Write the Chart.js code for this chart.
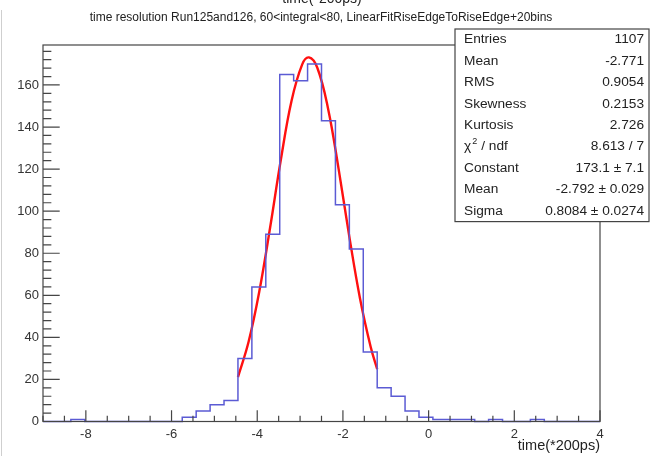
<!DOCTYPE html>
<html><head><meta charset="utf-8">
<script src="https://cdn.jsdelivr.net/npm/chart.js@4/dist/chart.umd.min.js"></script>
<style>html,body{margin:0;padding:0;background:#fff;}#wrap{position:relative;width:651px;height:456px;}canvas{display:block;}</style>
</head><body><div id="wrap"><canvas id="c" width="651" height="456"></canvas></div>
<script>
// ---------- data ----------
const chartTitle = "time resolution Run125and126, 60<integral<80, LinearFitRiseEdgeToRiseEdge+20bins";
const topCutText = "time(*200ps)";
const xAxisTitle = "time(*200ps)";
const xMin = -9, xMax = 4, nBins = 40;
const yMax = 179;
const binCounts = [0,0,1,0,0,0,0,0,0,0,
                   2,5,8,10,30,64,89,165,162,170,
                   143,103,82,33,16,12,5,2,1,1,
                   1,0,1,0,0,1,0,0,0,0];
// gaus fit curve
const fitX = [-4.45,-4.2,-3.95,-3.7,-3.45,-3.2,-2.95,-2.792,-2.6,-2.35,-2.1,-1.85,-1.6,-1.35,-1.2];
const fitY = [21.1,38.0,62.0,92.1,124.3,152.4,169.8,173.1,168.3,149.1,120.0,87.8,58.4,35.3,24.9];
const xTicks = [-8,-6,-4,-2,0,2,4];
const yTicks = [0,20,40,60,80,100,120,140,160];
const xMinorStep = 0.5, yMinorStep = 4;
const statLabels = ["Entries","Mean","RMS","Skewness","Kurtosis","χ2 / ndf","Constant","Mean","Sigma"];
const statValues = ["1107","-2.771","0.9054","0.2153","2.726","8.613 / 7","173.1 ± 7.1","-2.792 ± 0.029","0.8084 ± 0.0274"];

// ---------- build ----------
const binW = (xMax - xMin) / nBins;
const histPts = binCounts.map((c, i) => ({x: xMin + i * binW, y: c}));
histPts.push({x: xMax, y: binCounts[nBins - 1]});
const fitPts = fitX.map((x, i) => ({x: x, y: fitY[i]}));
const FONT = "'Liberation Sans', Arial, Helvetica, sans-serif";

const decor = {
  id: 'decor',
  beforeDraw(chart) {
    const ctx = chart.ctx;
    ctx.save(); ctx.fillStyle = '#fff'; ctx.fillRect(0, 0, chart.width, chart.height); ctx.restore();
  },
  afterDatasetsDraw(chart) {
    const ctx = chart.ctx, ca = chart.chartArea, xs = chart.scales.x, ys = chart.scales.y;
    ctx.save();
    // left page border
    ctx.strokeStyle = '#cfcfcf'; ctx.lineWidth = 1;
    ctx.beginPath(); ctx.moveTo(1.5, 10); ctx.lineTo(1.5, 456); ctx.stroke();
    // frame
    ctx.strokeStyle = '#454545'; ctx.lineWidth = 1.2;
    ctx.strokeRect(ca.left, ca.top, ca.right - ca.left, ca.bottom - ca.top);
    const hTick = (ca.bottom - ca.top) * 0.03, wTick = (ca.right - ca.left) * 0.03;
    ctx.beginPath();
    xTicks.forEach(v => { const p = xs.getPixelForValue(v); ctx.moveTo(p, ca.bottom); ctx.lineTo(p, ca.bottom - hTick); });
    for (let v = xMin; v <= xMax + 1e-9; v += xMinorStep) {
      if (xTicks.includes(v)) continue;
      const p = xs.getPixelForValue(v); ctx.moveTo(p, ca.bottom); ctx.lineTo(p, ca.bottom - hTick / 2);
    }
    yTicks.forEach(v => { const p = ys.getPixelForValue(v); ctx.moveTo(ca.left, p); ctx.lineTo(ca.left + wTick, p); });
    for (let v = 0; v <= yMax; v += yMinorStep) {
      if (yTicks.includes(v)) continue;
      const p = ys.getPixelForValue(v); ctx.moveTo(ca.left, p); ctx.lineTo(ca.left + wTick / 2, p);
    }
    ctx.stroke();
    // titles
    ctx.fillStyle = '#222';
    ctx.font = '12px ' + FONT; ctx.textAlign = 'center'; ctx.textBaseline = 'middle';
    ctx.fillText(chartTitle, 321, 18);
    ctx.font = '14px ' + FONT; ctx.textBaseline = 'alphabetic';
    ctx.fillText(topCutText, 322, 3);
    ctx.textAlign = 'right'; ctx.textBaseline = 'middle'; ctx.font = '14.5px ' + FONT;
    ctx.fillText(xAxisTitle, ca.right, 446);
    // stats box
    const bx = 455, by = 29, bw = 194, rowH = 21.4, bh = rowH * statLabels.length;
    ctx.fillStyle = '#fff'; ctx.fillRect(bx, by, bw, bh);
    ctx.strokeStyle = '#444'; ctx.lineWidth = 1.2; ctx.strokeRect(bx, by, bw, bh);
    ctx.fillStyle = '#222'; ctx.font = '13.7px ' + FONT; ctx.textBaseline = 'middle';
    statLabels.forEach((lab, i) => {
      const cy = by + rowH * (i + 0.5);
      ctx.textAlign = 'left';
      if (lab.startsWith('χ2')) {
        ctx.fillText('χ', bx + 9, cy);
        const w = ctx.measureText('χ').width;
        ctx.font = '9px ' + FONT; ctx.fillText('2', bx + 9 + w + 1, cy - 5);
        ctx.font = '13.7px ' + FONT; ctx.fillText('/ ndf', bx + 9 + w + 10, cy);
      } else {
        ctx.fillText(lab, bx + 9, cy);
      }
      ctx.textAlign = 'right';
      ctx.fillText(statValues[i], bx + bw - 5, cy);
    });
    ctx.restore();
  }
};

new Chart(document.getElementById('c'), {
  type: 'scatter',
  data: {
    datasets: [
      {data: histPts, showLine: true, stepped: true, borderColor: '#5b5bd4', borderWidth: 1.5,
       pointRadius: 0, fill: false, clip: 4},
      {data: fitPts, showLine: true, borderColor: '#ff1010', borderWidth: 2.4, tension: 0.4,
       pointRadius: 0, fill: false, clip: 4}
    ]
  },
  options: {
    responsive: false, animation: false, devicePixelRatio: 1,
    layout: {padding: {left: 0, top: 45, right: 51, bottom: 0}},
    plugins: {legend: {display: false}, tooltip: {enabled: false}, title: {display: false}},
    scales: {
      x: {type: 'linear', min: xMin, max: xMax,
          grid: {display: false, drawTicks: false}, border: {display: false},
          ticks: {font: {family: FONT, size: 13}, color: '#333', padding: 5, maxRotation: 0, autoSkip: false},
          afterBuildTicks: s => { s.ticks = xTicks.map(v => ({value: v})); },
          afterFit: s => { s.height = 34.5; }},
      y: {type: 'linear', min: 0, max: yMax,
          grid: {display: false, drawTicks: false}, border: {display: false},
          ticks: {font: {family: FONT, size: 13}, color: '#333', padding: 4, autoSkip: false},
          afterBuildTicks: s => { s.ticks = yTicks.map(v => ({value: v})); },
          afterFit: s => { s.width = 43; }}
    }
  },
  plugins: [decor]
});
</script></body></html>
